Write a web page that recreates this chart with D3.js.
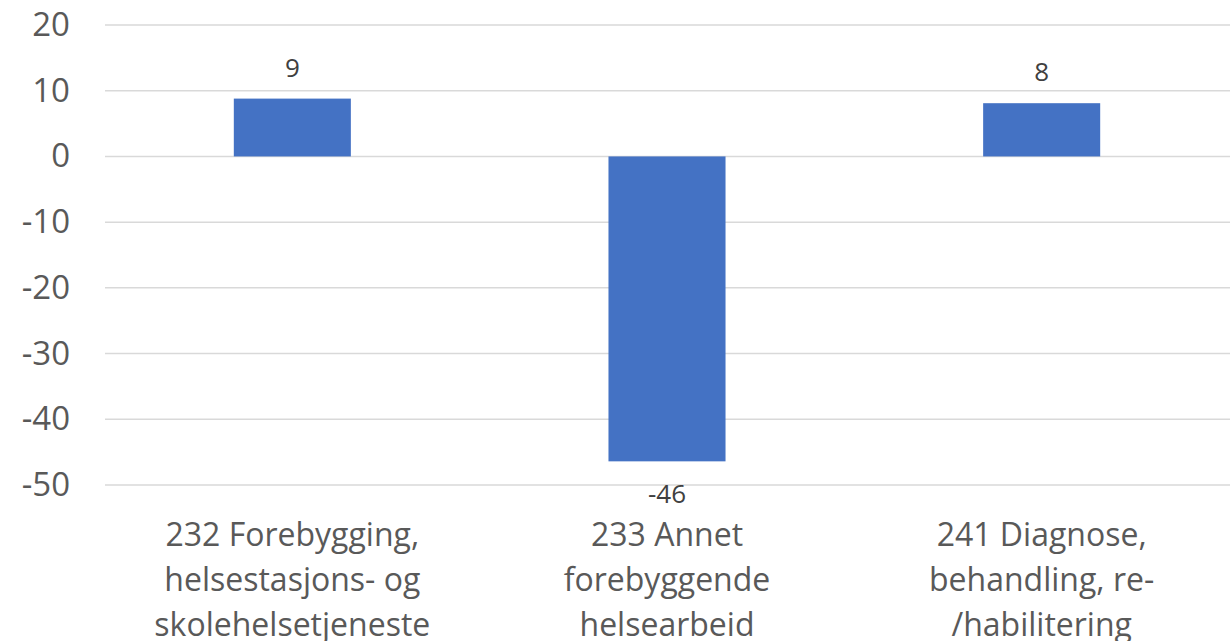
<!DOCTYPE html>
<html>
<head>
<meta charset="utf-8">
<script src="https://cdn.jsdelivr.net/npm/d3@7"></script>
<style>
  body { margin: 0; background: #fff; }
  svg { display: block; }
</style>
</head>
<body>
<script>
//data
var categories = [
    ["232 Forebygging,", "helsestasjons- og", "skolehelsetjeneste"],
    ["233 Annet", "forebyggende", "helsearbeid"],
    ["241 Diagnose,", "behandling, re-", "/habilitering"]
];
var values = [8.8, -46.4, 8.1];
var labels = ["9", "-46", "8"];
var yTicks = [20, 10, 0, -10, -20, -30, -40, -50];

(function(){
    //frame
    var width = 1230, height = 641;
    var plotLeft = 105, plotRight = 1229, plotTop = 25, plotBottom = 485;

    var svg = d3.select("body").append("svg")
        .attr("width", width)
        .attr("height", height);

    var x = d3.scaleBand()
        .domain(d3.range(categories.length))
        .range([plotLeft, plotRight])
        .paddingInner(0.6876)
        .paddingOuter(0.3438);

    var y = d3.scaleLinear()
        .domain([-50, 20])
        .range([plotBottom, plotTop]);

    //gridlines
    svg.selectAll(".grid")
        .data(yTicks)
        .enter()
        .append("line")
        .attr("x1", plotLeft)
        .attr("x2", width)
        .attr("y1", function(d){ return y(d); })
        .attr("y2", function(d){ return y(d); })
        .attr("stroke", "#d9d9d9")
        .attr("stroke-width", 1.5);

    //y axis labels
    var yAxis = d3.axisLeft(y)
        .tickValues(yTicks)
        .tickSize(0)
        .tickPadding(0)
        .tickFormat(function(d){ return String(d); });

    var ga = svg.append("g")
        .attr("transform", "translate(70,0)")
        .call(yAxis);
    ga.select(".domain").remove();
    ga.selectAll("text")
        .attr("font-family", "Open Sans")
        .attr("font-size", 33)
        .attr("fill", "#595959");

    //bars
    svg.selectAll(".bar")
        .data(values)
        .enter()
        .append("rect")
        .attr("class", "bar")
        .attr("x", function(d, i){ return x(i); })
        .attr("width", x.bandwidth())
        .attr("y", function(d){ return y(Math.max(0, d)); })
        .attr("height", function(d){ return Math.abs(y(d) - y(0)); })
        .attr("fill", "#4472c4");

    //data labels
    svg.selectAll(".val")
        .data(values)
        .enter()
        .append("text")
        .attr("x", function(d, i){ return x(i) + x.bandwidth() / 2; })
        .attr("y", function(d){ return d >= 0 ? y(d) - 22 : y(d) + 42; })
        .attr("text-anchor", "middle")
        .attr("font-family", "Open Sans")
        .attr("font-size", 26)
        .attr("fill", "#404040")
        .text(function(d, i){ return labels[i]; });

    //category labels
    var cat = svg.selectAll(".cat")
        .data(categories)
        .enter()
        .append("text")
        .attr("text-anchor", "middle")
        .attr("font-family", "Open Sans")
        .attr("font-size", 32)
        .attr("fill", "#595959");

    cat.selectAll("tspan")
        .data(function(d, i){ return d.map(function(t){ return {t: t, i: i}; }); })
        .enter()
        .append("tspan")
        .attr("x", function(d){ return x(d.i) + x.bandwidth() / 2; })
        .attr("y", function(d, j){ return 546 + j * 45; })
        .text(function(d){ return d.t; });
})();
</script>
</body>
</html>
